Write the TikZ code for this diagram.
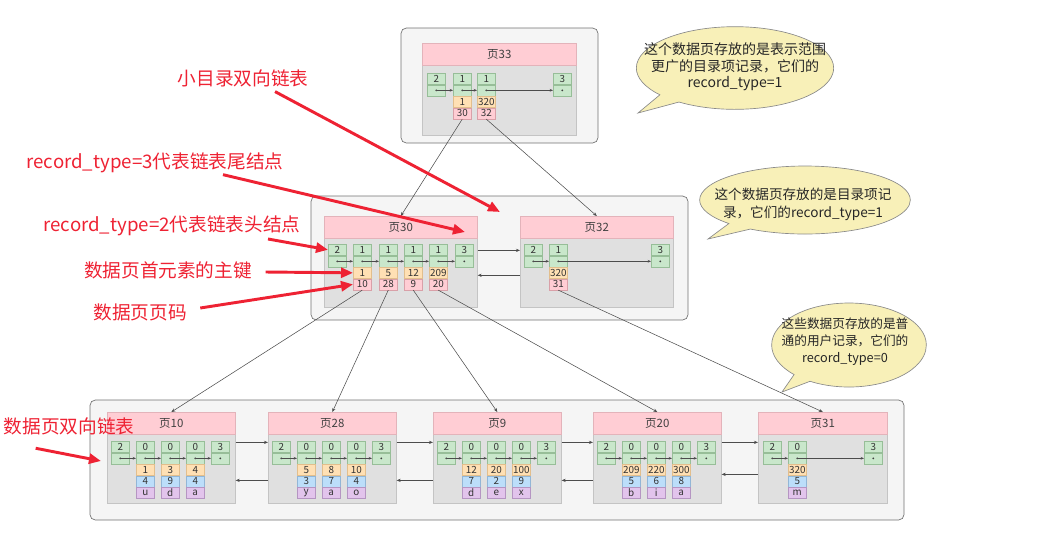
\documentclass[tikz,border=0pt]{standalone}
\usepackage{fontspec}
\setmainfont{Noto Sans CJK SC}
\usetikzlibrary{positioning,arrows.meta,shapes.callouts}

\definecolor{boxbg}{HTML}{F5F5F5}
\definecolor{boxln}{HTML}{707070}
\definecolor{hdrbg}{HTML}{FFCDD4}
\definecolor{hdrln}{HTML}{E3B3BA}
\definecolor{bodybg}{HTML}{E0E0E0}
\definecolor{bodyln}{HTML}{C4C4C4}
\definecolor{grnbg}{HTML}{C9E7CB}
\definecolor{grnln}{HTML}{97BE98}
\definecolor{orgbg}{HTML}{FFE0B4}
\definecolor{orgln}{HTML}{E2BE8C}
\definecolor{pnkbg}{HTML}{FFCDD4}
\definecolor{pnkln}{HTML}{D9A0A8}
\definecolor{blubg}{HTML}{BCDEFA}
\definecolor{bluln}{HTML}{92B6D6}
\definecolor{purbg}{HTML}{E2C4EC}
\definecolor{purln}{HTML}{B595C2}
\definecolor{annred}{HTML}{EE2233}
\definecolor{callbg}{HTML}{F8F0B8}
\definecolor{callln}{HTML}{8A8A8A}

% one record: record_type on top, next pointer below
\newcommand{\addrec}[4]{%
  \node[gcell,anchor=north west] (t#1) at (#2,#3) {#4};
  \node[gcell,below=0pt of t#1] (d#1) {};
  \fill[black!75] (d#1.center) circle (0.75pt);
}
% directory entry: smallest key and page number
\newcommand{\dirkey}[3]{%
  \node[ocell,below=0pt of d#1] (k#1) {#2};
  \node[pcell,below=0pt of k#1] (n#1) {#3};
}
% user record: key and two columns
\newcommand{\leafrow}[4]{%
  \node[ocell,below=0pt of d#1] (k#1) {#2};
  \node[bcell,below=0pt of k#1] (v#1) {#3};
  \node[vcell,below=0pt of v#1] (s#1) {#4};
}

\begin{document}
\begin{tikzpicture}[x=0.75pt,y=-0.75pt,
  cont/.style={draw=boxln,fill=boxbg,rounded corners=4pt,line width=0.5pt},
  pagebody/.style={draw=bodyln,fill=bodybg,anchor=north west,inner sep=0pt,line width=0.5pt},
  pagehdr/.style={draw=hdrln,fill=hdrbg,anchor=north west,inner sep=0pt,minimum height=16.5pt,line width=0.5pt,font=\fontsize{8.6}{9}\selectfont,text=black!75},
  cell/.style={minimum width=13.5pt,minimum height=8.25pt,inner sep=0pt,line width=0.4pt,font=\fontsize{7.4}{7.4}\selectfont,text=black!80},
  gcell/.style={cell,draw=grnln,fill=grnbg},
  ocell/.style={cell,draw=orgln,fill=orgbg},
  pcell/.style={cell,draw=pnkln,fill=pnkbg},
  bcell/.style={cell,draw=bluln,fill=blubg},
  vcell/.style={cell,draw=purln,fill=purbg},
  ilnk/.style={draw=black!70,line width=0.4pt,-{Stealth[length=2.5pt,width=2pt]}},
  plnk/.style={draw=black!70,line width=0.4pt,-{Stealth[length=3pt,width=2.4pt]}},
  redarr/.style={draw=annred,line width=2.2pt,-{Triangle[length=9pt,width=7.5pt]}},
  redlab/.style={text=annred,inner sep=1pt,font=\fontsize{14}{16}\selectfont},
  callout/.style={ellipse callout,draw=callln,fill=callbg,line width=0.5pt,inner sep=0pt},
  calltxt/.style={align=center,inner sep=0pt,text=black!85}]

  \useasboundingbox (0,0) rectangle (1043,537);

  % containers
  \draw[cont] (401,28) rectangle (598,143);
  \draw[cont] (311,196) rectangle (688,320);
  \draw[cont] (90,400) rectangle (904,520);

  % top level directory page
  \node[pagebody,minimum width=115.5pt,minimum height=69pt] (pg33) at (422,43) {};
  \node[pagehdr,minimum width=115.5pt] (hd33) at (422,43) {页33};
  \addrec{33a}{427}{73}{2}
  \addrec{33b}{453}{73}{1}
  \addrec{33c}{477}{73}{1}
  \addrec{33d}{553}{73}{3}
  \dirkey{33b}{1}{30}
  \dirkey{33c}{320}{32}
  \foreach \u/\v in {a/b,b/c,c/d}
    \draw[ilnk] (d33\u.center) -- (d33\v.west);

  % second level directory pages
  \node[pagebody,minimum width=114.75pt,minimum height=68.25pt] (pg30) at (324,216) {};
  \node[pagehdr,minimum width=114.75pt] (hd30) at (324,216) {页30};
  \addrec{30a}{328}{244}{2}
  \addrec{30b}{353}{244}{1}
  \addrec{30c}{379}{244}{1}
  \addrec{30d}{404}{244}{1}
  \addrec{30e}{429}{244}{1}
  \addrec{30f}{455}{244}{3}
  \dirkey{30b}{1}{10}
  \dirkey{30c}{5}{28}
  \dirkey{30d}{12}{9}
  \dirkey{30e}{209}{20}
  \foreach \u/\v in {a/b,b/c,c/d,d/e,e/f}
    \draw[ilnk] (d30\u.center) -- (d30\v.west);

  \node[pagebody,minimum width=114.75pt,minimum height=68.25pt] (pg32) at (520,216) {};
  \node[pagehdr,minimum width=114.75pt] (hd32) at (520,216) {页32};
  \addrec{32a}{524}{244}{2}
  \addrec{32b}{549}{244}{1}
  \addrec{32c}{651}{244}{3}
  \dirkey{32b}{320}{31}
  \foreach \u/\v in {a/b,b/c}
    \draw[ilnk] (d32\u.center) -- (d32\v.west);

  \draw[plnk] ([yshift=8.6pt]pg30.east) -- ([yshift=8.6pt]pg32.west);
  \draw[plnk] ([yshift=-10.1pt]pg32.west) -- ([yshift=-10.1pt]pg30.east);

  % leaf pages
  \foreach \pg/\px/\ka/\kb/\kc/\ia/\ib/\ic/\qa/\qb/\qc in
    {10/107/1/3/4/4/9/4/u/d/a, 28/268/5/8/10/3/7/4/y/a/o,
     9/433/12/20/100/7/2/9/d/e/x, 20/593/209/220/300/5/6/8/b/i/a}{
    \node[pagebody,minimum width=96pt,minimum height=68.25pt] (pg\pg) at (\px,412) {};
    \node[pagehdr,minimum width=96pt] (hd\pg) at (\px,412) {页\pg};
    \addrec{\pg a}{\px+4}{441}{2}
    \addrec{\pg b}{\px+29}{441}{0}
    \addrec{\pg c}{\px+54}{441}{0}
    \addrec{\pg d}{\px+79}{441}{0}
    \addrec{\pg e}{\px+104}{441}{3}
    \leafrow{\pg b}{\ka}{\ia}{\qa}
    \leafrow{\pg c}{\kb}{\ib}{\qb}
    \leafrow{\pg d}{\kc}{\ic}{\qc}
    \foreach \u/\v in {a/b,b/c,c/d,d/e}
      \draw[ilnk] (d\pg\u.center) -- (d\pg\v.west);
  }

  \node[pagebody,minimum width=96.75pt,minimum height=68.25pt] (pg31) at (758,412) {};
  \node[pagehdr,minimum width=96.75pt] (hd31) at (758,412) {页31};
  \addrec{31a}{763}{441}{2}
  \addrec{31b}{788}{441}{0}
  \addrec{31c}{864}{441}{3}
  \leafrow{31b}{320}{5}{m}
  \foreach \u/\v in {a/b,b/c}
    \draw[ilnk] (d31\u.center) -- (d31\v.west);

  \foreach \a/\b in {10/28,28/9,9/20,20/31}
    \draw[plnk] ([yshift=11.6pt]pg\a.east) -- ([yshift=11.6pt]pg\b.west);
  \foreach \a/\b/\s in {10/28/-16.9,28/9/-16.9,9/20/-16.9,20/31/-12.4}
    \draw[plnk] ([yshift=\s pt]pg\b.west) -- ([yshift=\s pt]pg\a.east);

  % page pointers
  \draw[plnk] (n33b.south) -- (hd30.north);
  \draw[plnk] (n33c.south) -- (hd32.north);
  \draw[plnk] (n30b.south) -- (hd10.north);
  \draw[plnk] (n30c.south) -- (hd28.north);
  \draw[plnk] (n30d.south) -- (hd9.north);
  \draw[plnk] (n30e.south) -- (hd20.north);
  \draw[plnk] (n32b.south) -- (hd31.north);

  % callouts
  \node[callout,minimum width=148pt,minimum height=62pt,callout absolute pointer={(638,113)}] (co1) at (735,68) {};
  \node[calltxt,font=\fontsize{10.5}{12.4}\selectfont] (tx1) at (735,67) {这个数据页存放的是表示范围\\更广的目录项记录，它们的\\record\_type=1};
  \node[callout,minimum width=158pt,minimum height=51pt,callout absolute pointer={(708,239)}] (co2) at (805,200) {};
  \node[calltxt,font=\fontsize{10.2}{13.5}\selectfont] (tx2) at (803,204) {这个数据页存放的是目录项记\\录，它们的record\_type=1};
  \node[callout,minimum width=116pt,minimum height=63pt,callout absolute pointer={(782,392)}] (co3) at (849,345) {};
  \node[calltxt,font=\fontsize{9.5}{12.75}\selectfont] (tx3) at (845,342) {这些数据页存放的是普\\通的用户记录，它们的\\record\_type=0};

  % annotations
  \node[redlab] (lab1) at (243,78) {小目录双向链表};
  \node[redlab] (lab2) at (155,163) {record\_type=3代表链表尾结点};
  \node[redlab] (lab3) at (172,226) {record\_type=2代表链表头结点};
  \node[redlab] (lab4) at (168,270) {数据页首元素的主键};
  \node[redlab] (lab5) at (140,312) {数据页页码};
  \node[redlab] (lab6) at (69,426) {数据页双向链表};

  \coordinate (e1) at (500,212);
  \coordinate (e2) at (465,232);
  \coordinate (e6) at (101,461);
  \draw[redarr] ([xshift=24pt,yshift=-2.5pt]lab1.south) -- (e1);
  \draw[redarr] ([xshift=51pt]lab2.south) -- (e2);
  \draw[redarr] ([xshift=72pt,yshift=-1pt]lab3.south) -- (t30a.west);
  \draw[redarr] ([xshift=9pt,yshift=-1.5pt]lab4.east) -- (k30b.west);
  \draw[redarr] ([xshift=9pt,yshift=3pt]lab5.east) -- (n30b.west);
  \draw[redarr] ([xshift=-25pt,yshift=-9pt]lab6.south) -- (e6);
\end{tikzpicture}
\end{document}
